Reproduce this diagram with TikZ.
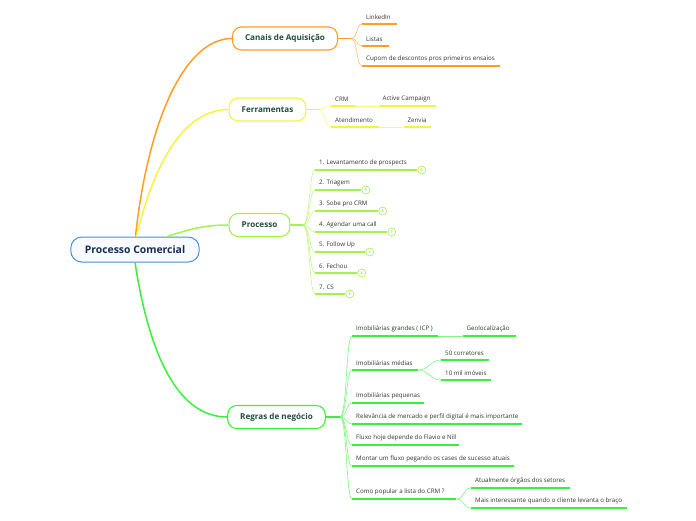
\documentclass[tikz,border=0pt]{standalone}
\usepackage{fontspec}
\setmainfont{Open Sans}
\usetikzlibrary{positioning}

\definecolor{cOrange}{HTML}{FF9E22}
\definecolor{cYellow}{HTML}{F4F43A}
\definecolor{cLime}{HTML}{A4F24A}
\definecolor{cGreen}{HTML}{3AF03A}
\definecolor{cBlue}{HTML}{4A8FD2}
\definecolor{rootfill}{HTML}{F7FBFF}
\definecolor{roottext}{HTML}{1B2A52}
\definecolor{topictext}{HTML}{1F4E3D}
\definecolor{leaftext}{HTML}{333333}

\begin{document}
\begin{tikzpicture}[
    x=1pt, y=-1pt,
    topic/.style={draw=#1, line width=1.1pt, rounded corners=9pt, fill=white,
      minimum height=23pt, inner xsep=12.5pt,
      font=\fontsize{8.1}{9}\selectfont\bfseries, text=topictext},
    leaf/.style={fill=#1, inner sep=0pt, minimum height=1.5pt, anchor=west},
    lbl/.style={anchor=south west, xshift=4pt, inner xsep=0pt, inner ysep=3.2pt,
      font=\fontsize{6.2}{7}\selectfont, text=leaftext},
    num/.style={draw=#1, circle, fill=white, inner sep=0pt, minimum size=8pt,
      line width=0.6pt, font=\fontsize{3.6}{4}\selectfont, text=#1!70!black},
    bough/.style={draw=#1, line width=1.5pt},
    twig/.style={draw=#1!65, line width=0.6pt}
  ]
  \useasboundingbox (0,0) rectangle (696,520);

  % Root
  \node[draw=cBlue, line width=1pt, rounded corners=11pt, fill=rootfill,
    minimum height=25pt, inner xsep=14pt, text=roottext,
    font=\fontsize{10.4}{12}\selectfont\bfseries] (root) at (135,249.5) {Processo Comercial};

  % Topics
  \node[topic=cOrange] (canais) at (285,38.5)  {Canais de Aquisição};
  \node[topic=cYellow] (tools)  at (267.5,109.5) {Ferramentas};
  \node[topic=cLime]   (proc)   at (259.5,225) {Processo};
  \node[topic=cGreen]  (rules)  at (276.5,417) {Regras de negócio};

  \draw[bough=cOrange] (root.88) .. controls (148,120) and (185,38.5) .. (canais.west);
  \draw[bough=cYellow] (root.84) .. controls (155,160) and (185,109.5) .. (tools.west);
  \draw[bough=cLime]   (root.22) .. controls (190,229) and (205,225) .. (proc.west);
  \draw[bough=cGreen]  (root.south) .. controls (150,360) and (180,417) .. (rules.west);

  % Canais de Aquisição
  \coordinate (ca) at (351,38.5);
  \draw[bough=cOrange, line width=1.2pt] (canais.east) -- (ca);
  \node[leaf=cOrange, minimum width=35pt, label={[lbl]north west:LinkedIn}] (li) at (362,24) {};
  \node[leaf=cOrange, minimum width=27pt, label={[lbl]north west:Listas}] (ls) at (362,46) {};
  \node[leaf=cOrange, minimum width=138pt,
    label={[lbl]north west:Cupom de descontos pros primeiros ensaios}] (cp) at (362,66) {};
  \draw[twig=cOrange] (ca) .. controls +(7,0) and +(-6,0) .. (li.west);
  \draw[twig=cOrange] (ca) .. controls +(7,0) and +(-6,0) .. (ls.west);
  \draw[twig=cOrange] (ca) .. controls +(7,0) and +(-6,0) .. (cp.west);

  % Ferramentas
  \coordinate (fe) at (319,109.5);
  \draw[bough=cYellow, line width=1.2pt] (tools.east) -- (fe);
  \node[leaf=cYellow, minimum width=24pt, label={[lbl]north west:CRM}] (crm) at (331,106) {};
  \node[leaf=cYellow, minimum width=57pt, right=23pt of crm,
    label={[lbl]north west:Active Campaign}] (ac) {};
  \node[leaf=cYellow, minimum width=48pt, label={[lbl]north west:Atendimento}] (at) at (331,127) {};
  \node[leaf=cYellow, minimum width=27pt, right=24pt of at,
    label={[lbl]north west:Zenvia}] (zv) {};
  \draw[twig=cYellow] (fe) .. controls +(6,0) and +(-6,0) .. (crm.west);
  \draw[twig=cYellow] (fe) .. controls +(6,0) and +(-6,0) .. (at.west);
  \draw[twig=cYellow] (crm) -- (ac);
  \draw[twig=cYellow] (at) -- (zv);

  % Processo
  \coordinate (pr) at (303,225);
  \draw[bough=cLime, line width=1.2pt] (proc.east) -- (pr);
  \node[leaf=cLime, minimum width=102pt,
    label={[lbl]north west:1. Levantamento de prospects}] (p1) at (315,170) {};
  \node[leaf=cLime, minimum width=46pt, label={[lbl]north west:2. Triagem}] (p2) at (315,190) {};
  \node[leaf=cLime, minimum width=63pt, label={[lbl]north west:3. Sobe pro CRM}] (p3) at (315,211) {};
  \node[leaf=cLime, minimum width=72pt, label={[lbl]north west:4. Agendar uma call}] (p4) at (315,232) {};
  \node[leaf=cLime, minimum width=50pt, label={[lbl]north west:5. Follow Up}] (p5) at (315,252) {};
  \node[leaf=cLime, minimum width=42pt, label={[lbl]north west:6. Fechou}] (p6) at (315,273) {};
  \node[leaf=cLime, minimum width=30pt, label={[lbl]north west:7. CS}] (p7) at (315,294) {};
  \node[num=cLime, right=0pt of p1] (n1) {6};
  \node[num=cLime, right=0pt of p2] (n2) {9};
  \node[num=cLime, right=0pt of p3] (n3) {8};
  \node[num=cLime, right=0pt of p4] (n4) {7};
  \node[num=cLime, right=0pt of p5] (n5) {5};
  \node[num=cLime, right=0pt of p6] (n6) {4};
  \node[num=cLime, right=0pt of p7] (n7) {3};
  \draw[twig=cLime] (pr) .. controls +(7,0) and +(-6,0) .. (p1.west);
  \draw[twig=cLime] (pr) .. controls +(7,0) and +(-6,0) .. (p2.west);
  \draw[twig=cLime] (pr) .. controls +(7,0) and +(-6,0) .. (p3.west);
  \draw[twig=cLime] (pr) .. controls +(7,0) and +(-6,0) .. (p4.west);
  \draw[twig=cLime] (pr) .. controls +(7,0) and +(-6,0) .. (p5.west);
  \draw[twig=cLime] (pr) .. controls +(7,0) and +(-6,0) .. (p6.west);
  \draw[twig=cLime] (pr) .. controls +(7,0) and +(-6,0) .. (p7.west);

  % Regras de negocio
  \coordinate (rg) at (340,417);
  \draw[bough=cGreen, line width=1.2pt] (rules.east) -- (rg);
  \node[leaf=cGreen, minimum width=86pt,
    label={[lbl]north west:{Imobiliárias grandes ( ICP )}}] (r1) at (352,336) {};
  \node[leaf=cGreen, minimum width=53pt, right=24pt of r1,
    label={[lbl]north west:Geolocalização}] (geo) {};
  \node[leaf=cGreen, minimum width=66pt, label={[lbl]north west:Imobiliárias médias}] (r2) at (352,370) {};
  \node[leaf=cGreen, minimum width=48pt, label={[lbl]north west:50 corretores}] (m1) at (441,360) {};
  \node[leaf=cGreen, minimum width=50pt, label={[lbl]north west:10 mil imóveis}] (m2) at (441,380) {};
  \node[leaf=cGreen, minimum width=72pt, label={[lbl]north west:Imobiliárias pequenas}] (r3) at (352,403) {};
  \node[leaf=cGreen, minimum width=170pt,
    label={[lbl]north west:Relevância de mercado e perfil digital é mais importante}] (r4) at (352,424) {};
  \node[leaf=cGreen, minimum width=107pt,
    label={[lbl]north west:Fluxo hoje depende do Flavio e Nill}] (r5) at (352,445) {};
  \node[leaf=cGreen, minimum width=162pt,
    label={[lbl]north west:Montar um fluxo pegando os cases de sucesso atuais}] (r6) at (352,466) {};
  \node[leaf=cGreen, minimum width=104pt,
    label={[lbl]north west:Como popular a lista do CRM ?}] (r7) at (352,499) {};
  \node[leaf=cGreen, minimum width=99pt,
    label={[lbl]north west:Atualmente órgãos dos setores}] (c1) at (471,488) {};
  \node[leaf=cGreen, minimum width=156pt,
    label={[lbl]north west:Mais interessante quando o cliente levanta o braço}] (c2) at (471,508) {};
  \draw[twig=cGreen] (rg) .. controls +(7,0) and +(-6,0) .. (r1.west);
  \draw[twig=cGreen] (rg) .. controls +(7,0) and +(-6,0) .. (r2.west);
  \draw[twig=cGreen] (rg) .. controls +(7,0) and +(-6,0) .. (r3.west);
  \draw[twig=cGreen] (rg) .. controls +(7,0) and +(-6,0) .. (r4.west);
  \draw[twig=cGreen] (rg) .. controls +(7,0) and +(-6,0) .. (r5.west);
  \draw[twig=cGreen] (rg) .. controls +(7,0) and +(-6,0) .. (r6.west);
  \draw[twig=cGreen] (rg) .. controls +(7,0) and +(-6,0) .. (r7.west);
  \draw[twig=cGreen] (r1) -- (geo);
  \draw[twig=cGreen] (r2.east) .. controls +(10,0) and +(-10,0) .. (m1.west);
  \draw[twig=cGreen] (r2.east) .. controls +(10,0) and +(-10,0) .. (m2.west);
  \draw[twig=cGreen] (r7.east) .. controls +(8,0) and +(-8,0) .. (c1.west);
  \draw[twig=cGreen] (r7.east) .. controls +(8,0) and +(-8,0) .. (c2.west);
\end{tikzpicture}
\end{document}
